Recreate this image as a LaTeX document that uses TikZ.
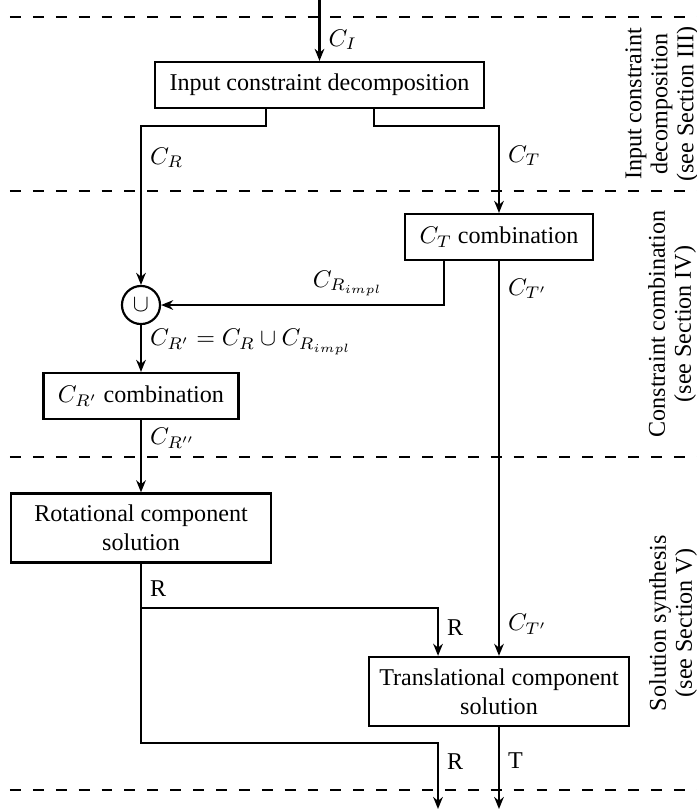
\documentclass[tikz,border=0pt]{standalone}
\usepackage{fontspec}
\setmainfont{Liberation Serif}
\usetikzlibrary{arrows.meta,positioning}
\tikzset{
  box/.style={draw, line width=1pt, inner xsep=6pt, minimum height=19pt},
  widebox/.style={draw, line width=1pt, align=center, minimum width=108pt, minimum height=28.6pt},
  flow/.style={line width=0.9pt, -{Stealth[length=5pt,width=4pt]}},
  sep/.style={line width=0.7pt, dash pattern=on 4.5pt off 5pt},
  side/.style={rotate=90, align=center, font=\fontsize{10}{10.8}\selectfont}
}
\begin{document}
\begin{tikzpicture}[x=0.415pt,y=-0.415pt]
\useasboundingbox (0,0) rectangle (697,809);
% section borders
\foreach \y in {17,191,457,790}
  \draw[sep] (10,\y) -- (697,\y);
% blocks
\node[box] (decomp) at (319.5,85) {Input constraint decomposition};
\node[box] (tcomb) at (499,237) {$C_T$ combination};
\node[draw, circle, line width=0.9pt, minimum size=15.8pt, inner sep=0pt] (union) at (141,305) {$\cup$};
\node[box] (rcomb) at (141,396) {$C_{R'}$ combination};
\node[widebox] (rot) at (141,528) {Rotational component\\solution};
\node[widebox] (trans) at (499,691.5) {Translational component\\solution};
\coordinate (in) at (319.5,0);
\coordinate (outR) at (438,809);
\coordinate (outT) at (499,809);
% section labels
\node[side] (sec3) at (662,104) {Input constraint\\decomposition\\(see Section III)};
\node[side] (sec4) at (672,324) {Constraint combination\\(see Section IV)};
\node[side] (sec5) at (673,623) {Solution synthesis\\(see Section V)};
% flows
\draw[flow] (in) -- node[pos=0.65,right] {$C_I$} (decomp.north);
\draw[flow] (decomp.south) ++(-53.5,0) -- ++(0,17) -| node[pos=0.6,right] {$C_R$} (union.north);
\draw[flow] (decomp.south) ++(54.5,0) -- ++(0,17) -| node[pos=0.67,right] {$C_T$} (tcomb.north);
\draw[flow] (tcomb.south) ++(-55,0) |- node[pos=0.67,above] {$C_{R_{impl}}$} (union.east);
\draw[flow] (tcomb.south) -- node[pos=0.07,right] {$C_{T'}$} node[pos=0.92,right] {$C_{T'}$} (trans.north);
\draw[flow] (union.south) -- node[pos=0.36,right] {$C_{R'} = C_R \cup C_{R_{impl}}$} (rcomb.north);
\draw[flow] (rcomb.south) -- node[pos=0.25,right] {$C_{R''}$} (rot.north);
\draw[flow] (rot.south) -- node[pos=0.57,right] {R} ++(0,44) -| node[pos=0.71,right] {R} ([xshift=-25.3pt]trans.north);
\draw[flow] (rot.south) -- ++(0,179) -| node[pos=0.64,right] {R} (outR);
\draw[flow] (trans.south) -- node[pos=0.41,right] {T} (outT);
\end{tikzpicture}
\end{document}
